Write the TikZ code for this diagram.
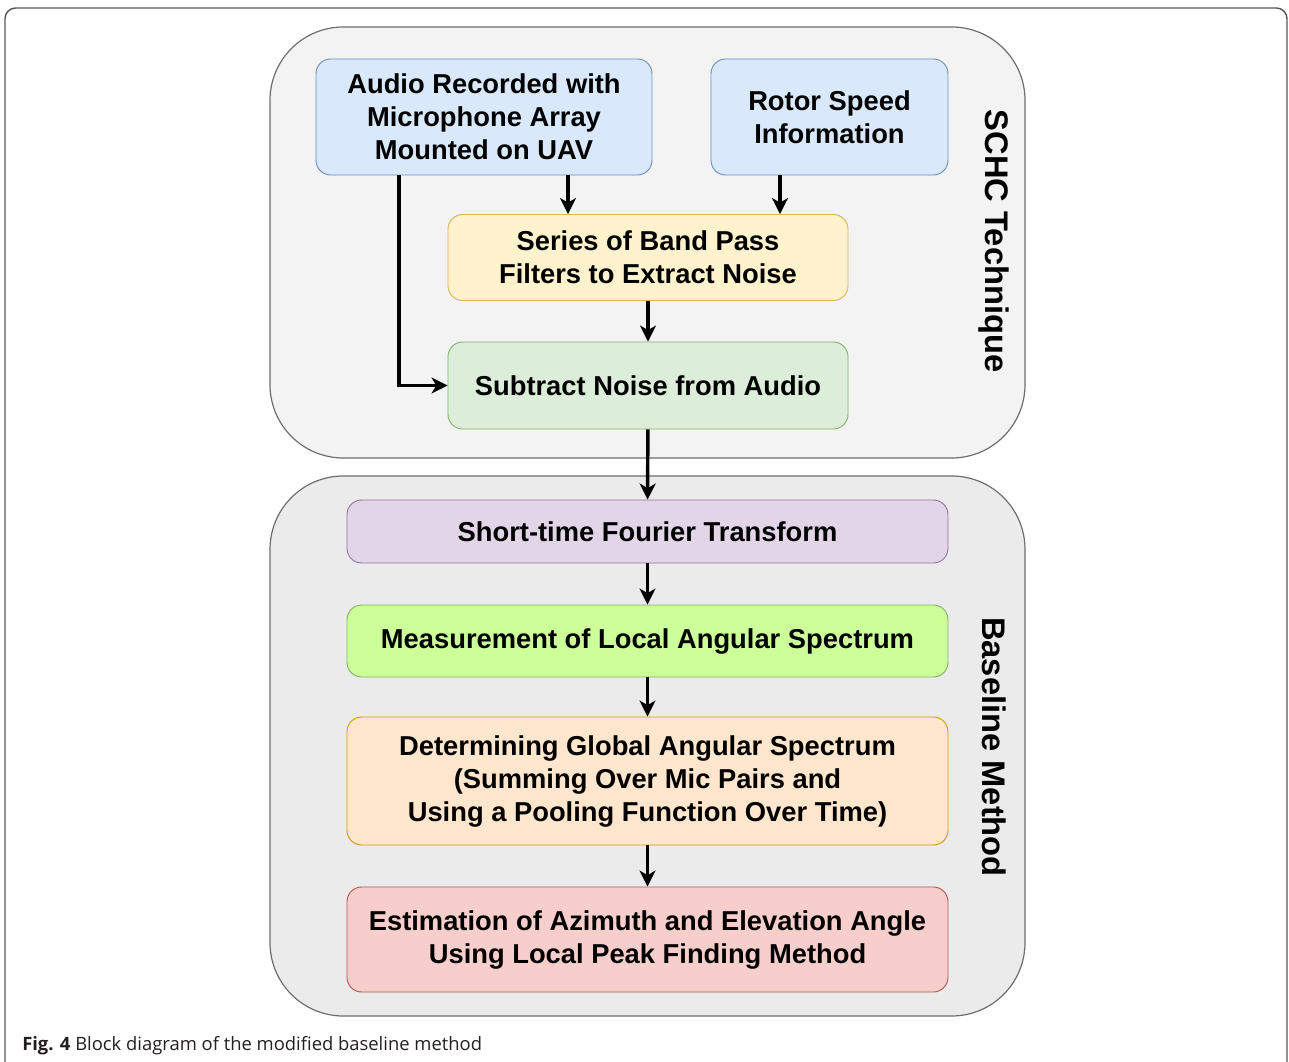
\documentclass[tikz,border=0pt]{standalone}
\usepackage{fontspec}
\setmainfont{Liberation Sans}
\newfontfamily\capfont{Open Sans}
\usetikzlibrary{arrows.meta,positioning}
\definecolor{contA}{HTML}{F3F3F3}
\definecolor{contB}{HTML}{EBEBEB}
\definecolor{contS}{HTML}{6E6E6E}
\definecolor{blueF}{HTML}{DAE8FC}\definecolor{blueS}{HTML}{6C8EBF}
\definecolor{yelF}{HTML}{FFF2CC}\definecolor{yelS}{HTML}{D6B656}
\definecolor{grnF}{HTML}{DCEEDA}\definecolor{grnS}{HTML}{82B366}
\definecolor{purF}{HTML}{E1D5E7}\definecolor{purS}{HTML}{9673A6}
\definecolor{limF}{HTML}{CCFF99}\definecolor{limS}{HTML}{82B366}
\definecolor{orF}{HTML}{FFE6CC}\definecolor{orS}{HTML}{D79B00}
\definecolor{redF}{HTML}{F8CECC}\definecolor{redS}{HTML}{B85450}
\definecolor{capc}{HTML}{231F20}
\tikzset{
  container/.style={draw=contS, line width=0.9pt, rounded corners=55pt},
  procbox/.style={draw, line width=0.7pt, rounded corners=11pt, align=center,
    font=\fontsize{20.5}{24.75}\selectfont\bfseries, inner sep=0pt},
  flow/.style={-{Stealth[length=12pt,width=12pt,inset=3.5pt]}, line width=2.6pt},
  sidelabel/.style={rotate=-90, font=\fontsize{24.5}{28}\selectfont\bfseries}
}
\begin{document}
\begin{tikzpicture}[x=0.75pt,y=-0.75pt]
\useasboundingbox (0,0) rectangle (1289,1062);
\begin{scope}
\clip (0,0) rectangle (1289,1062);
\draw[line width=1.1pt, draw=contS!80!black, rounded corners=8pt] (5,8) rectangle (1287,1090);
\end{scope}
% containers
\draw[container, fill=contA] (270,27) rectangle (1025,458);
\draw[container, fill=contB] (270,476) rectangle (1025,1016);
% nodes
\node[procbox, fill=blueF, draw=blueS, minimum width=336pt*0.75, minimum height=116pt*0.75] (audio) at (484,117) {Audio Recorded with\\Microphone Array\\Mounted on UAV};
\node[procbox, fill=blueF, draw=blueS, minimum width=237pt*0.75, minimum height=116pt*0.75] (rotor) at (829.5,117) {Rotor Speed\\Information};
\node[procbox, fill=yelF, draw=yelS, minimum width=400pt*0.75, minimum height=86pt*0.75] (bpf) at (648,257.5) {Series of Band Pass\\Filters to Extract Noise};
\node[procbox, fill=grnF, draw=grnS, minimum width=400pt*0.75, minimum height=87pt*0.75] (sub) at (648,385.5) {Subtract Noise from Audio};
\node[procbox, fill=purF, draw=purS, minimum width=601pt*0.75, minimum height=63pt*0.75] (stft) at (647.5,531.5) {Short-time Fourier Transform};
\node[procbox, fill=limF, draw=limS, minimum width=601pt*0.75, minimum height=72pt*0.75] (meas) at (647.5,641) {Measurement of Local Angular Spectrum};
\node[procbox, fill=orF, draw=orS, minimum width=601pt*0.75, minimum height=128pt*0.75] (glob) at (647.5,781) {Determining Global Angular Spectrum\\(Summing Over Mic Pairs and\\Using a Pooling Function Over Time)};
\node[procbox, fill=redF, draw=redS, minimum width=601pt*0.75, minimum height=105pt*0.75] (est) at (647.5,939.5) {Estimation of Azimuth and Elevation Angle\\Using Local Peak Finding Method};
% side labels
\node[sidelabel] (schc) at (994,241) {SCHC Technique};
\node[sidelabel] (base) at (994,747) {Baseline Method};
% connectors
\draw[flow] (audio.south -| 568,0) -- (bpf.north -| 568,0);
\draw[flow] (rotor.south -| 780,0) -- (bpf.north -| 780,0);
\draw[flow] (audio.south -| 399,0) |- (sub.west);
\draw[flow] (bpf) -- (sub);
\draw[flow] (sub) -- (stft);
\draw[flow] (stft) -- (meas);
\draw[flow] (meas) -- (glob);
\draw[flow] (glob) -- (est);
% caption
\node[anchor=base west, inner sep=0pt, text=capc, font=\capfont\fontsize{13.8}{16}\selectfont] (cap) at (22,1050) {\textbf{Fig. 4} Block diagram of the modified baseline method};
\end{tikzpicture}
\end{document}
